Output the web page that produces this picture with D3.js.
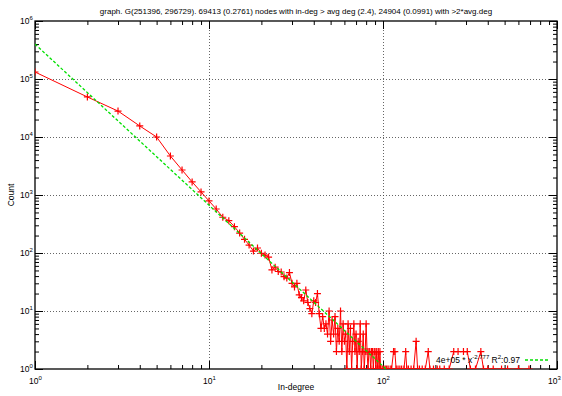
<!DOCTYPE html>
<html>
<head>
<meta charset="utf-8">
<script src="https://cdn.jsdelivr.net/npm/d3@7"></script>
<style>
  body { margin: 0; background: #fff; }
  text { font-family: "Liberation Sans", Arial, Helvetica, sans-serif; fill: #000; }
</style>
</head>
<body>
<script>
// in-degree distribution
const degree = [1,2,3,4,5,6,7,8,9,10,11,12,13,14,15,16,17,18,19,20,21,22,23,24,25,26,27,28,29,30,
  31,32,33,34,35,36,37,38,39,40,41,42,43,44,45,46,47,48,49,50,51,52,53,54,55,56,57,58,59,60,
  61,62,63,64,65,66,67,68,69,70,71,72,73,74,75,76,77,78,79,80,81,82,83,84,85,86,87,88,89,90,
  91,92,93,94,95,96,97,99,
  101,103,105,107,110,112,115,117,119,122,125,128,132,135,137,140,145,150,155,158,162,168,175,182,186,
  195,205,212,225,240,255,270,290,305,318,340,365,378,400,430,480,520,600,690];
const count = [132000,49000,28000,15500,10000,4700,2700,1680,1130,790,574,413,361,284,221,172,137,108,122,99,
  92,85,51,57,48,47,39,37,46,30,26,30,19,17,15,23,14,11,9,15,14,20,9,5,8,5,6,4,10,3,
  7,4,8,2,5,3,10,2,6,3,4,1,6,2,5,1,3,6,2,4,1,3,2,6,1,2,4,1,2,6,
  2,1,2,2,1,2,2,1,2,2,1,2,1,2,1,2,1,1,
  1,1,1,1,1,1,2,2,1,1,1,1,1,2,1,1,1,1,3,1,1,1,1,2,1,
  1,1,1,1,1,2,2,2,2,1,1,2,1,1,1,1,1,1,1];

// power law fit shown in the key
const fitA = 4e5;
const fitB = -2.777;
const fitR2 = "0.97";

const titleText = "graph. G(251396, 296729). 69413 (0.2761) nodes with in-deg > avg deg (2.4), 24904 (0.0991) with >2*avg.deg";
const xDecades = [1, 10, 100, 1000];
const yDecades = [1, 10, 100, 1e3, 1e4, 1e5, 1e6];

const width = 562, height = 396;
const pLeft = 35, pRight = 557, pTop = 21, pBottom = 369;

const svg = d3.select("body").append("svg")
  .attr("width", width).attr("height", height);

const x = d3.scaleLog().domain([1, 1000]).range([pLeft, pRight]);
const y = d3.scaleLog().domain([1, 1e6]).range([pBottom, pTop]);

function minors(decades) {
  const out = [];
  decades.slice(0, -1).forEach(d => { for (let k = 2; k <= 9; k++) out.push(d * k); });
  return out;
}

// grid (dotted, only inner decades)
const grid = svg.append("g").attr("stroke", "#000").attr("stroke-width", 0.8)
  .attr("stroke-dasharray", "1,2").attr("opacity", 0.75);
grid.selectAll(".gx").data(xDecades.slice(1, -1)).enter().append("line")
  .attr("x1", d => Math.round(x(d)) + 0.5).attr("x2", d => Math.round(x(d)) + 0.5)
  .attr("y1", pTop).attr("y2", pBottom);
grid.selectAll(".gy").data(yDecades.slice(1, -1)).enter().append("line")
  .attr("y1", d => Math.round(y(d)) + 0.5).attr("y2", d => Math.round(y(d)) + 0.5)
  .attr("x1", pLeft).attr("x2", pRight);

// ticks on all four sides, pointing in
function tickAxis(axisFn, scale, vals, size, tx, ty) {
  svg.append("g").attr("transform", `translate(${tx},${ty})`)
    .call(axisFn(scale).tickValues(vals).tickSizeInner(-size).tickSizeOuter(0).tickFormat(""))
    .call(g => g.select(".domain").remove())
    .call(g => g.selectAll("line").attr("stroke", "#000").attr("stroke-width", 1));
}
tickAxis(d3.axisBottom, x, xDecades, 8, 0, pBottom);
tickAxis(d3.axisBottom, x, minors(xDecades), 4, 0, pBottom);
tickAxis(d3.axisTop, x, xDecades, 8, 0, pTop);
tickAxis(d3.axisTop, x, minors(xDecades), 4, 0, pTop);
tickAxis(d3.axisLeft, y, yDecades, 8, pLeft, 0);
tickAxis(d3.axisLeft, y, minors(yDecades), 4, pLeft, 0);
tickAxis(d3.axisRight, y, yDecades, 8, pRight, 0);
tickAxis(d3.axisRight, y, minors(yDecades), 4, pRight, 0);

// tick labels 10^n
function powLabel(sel) {
  sel.append("tspan").text("10");
  sel.append("tspan").attr("font-size", 6).attr("dy", -4)
    .text(d => Math.round(Math.log10(d)));
}
// last label would run off the page, keep it inside
svg.append("g").selectAll("text").data(xDecades).enter().append("text")
  .attr("x", d => Math.min(x(d) - 6, width - 14)).attr("y", 384).attr("font-size", 8.5)
  .call(powLabel);
svg.append("g").selectAll("text").data(yDecades).enter().append("text")
  .attr("x", 20).attr("y", d => y(d) + 3).attr("font-size", 8.5)
  .call(powLabel);

// border
svg.append("rect").attr("x", pLeft).attr("y", pTop)
  .attr("width", pRight - pLeft).attr("height", pBottom - pTop)
  .attr("fill", "none").attr("stroke", "#000").attr("stroke-width", 1.3);

// clip for data
svg.append("clipPath").attr("id", "plot").append("rect")
  .attr("x", pLeft).attr("y", pTop).attr("width", pRight - pLeft).attr("height", pBottom - pTop);
const plot = svg.append("g").attr("clip-path", "url(#plot)");

const pts = degree.map((d, i) => [d, count[i]]);
const line = d3.line().x(d => x(d[0])).y(d => y(d[1]));

plot.append("path").datum(pts).attr("d", line)
  .attr("fill", "none").attr("stroke", "#ff0000").attr("stroke-width", 1);

plot.selectAll(".pt").data(pts).enter().append("path")
  .attr("d", d => {
    const px = x(d[0]), py = y(d[1]), s = 3.5;
    return `M${px - s},${py}H${px + s}M${px},${py - s}V${py + s}`;
  })
  .attr("stroke", "#ff0000").attr("stroke-width", 1.2).attr("fill", "none");

// fitted power law
const fitPts = [degree[0], degree[degree.length - 1]].map(d => [d, fitA * Math.pow(d, fitB)]);
plot.append("path").datum(fitPts).attr("d", line)
  .attr("fill", "none").attr("stroke", "#00e000").attr("stroke-width", 1.3)
  .attr("stroke-dasharray", "3,2");

// key
const key = svg.append("text").attr("x", 520).attr("y", 363)
  .attr("text-anchor", "end").attr("font-size", 8.5).attr("fill", "#222");
key.append("tspan").text("4e+05 * x");
key.append("tspan").attr("font-size", 6).attr("dy", -4).text(fitB.toString());
key.append("tspan").attr("dy", 4).text("  R");
key.append("tspan").attr("font-size", 6).attr("dy", -4).text("2");
key.append("tspan").attr("dy", 4).text(":" + fitR2);
svg.append("line").attr("x1", 525).attr("x2", 549).attr("y1", 360).attr("y2", 360)
  .attr("stroke", "#00e000").attr("stroke-width", 1.3).attr("stroke-dasharray", "3,2");

// titles
svg.append("text").attr("x", 296).attr("y", 14).attr("text-anchor", "middle")
  .attr("font-size", 8).text(titleText);
svg.append("text").attr("x", 296).attr("y", 390).attr("text-anchor", "middle")
  .attr("font-size", 8.5).text("In-degree");
svg.append("text").attr("transform", "translate(14,195) rotate(-90)")
  .attr("text-anchor", "middle").attr("font-size", 8.5).text("Count");
</script>
</body>
</html>
